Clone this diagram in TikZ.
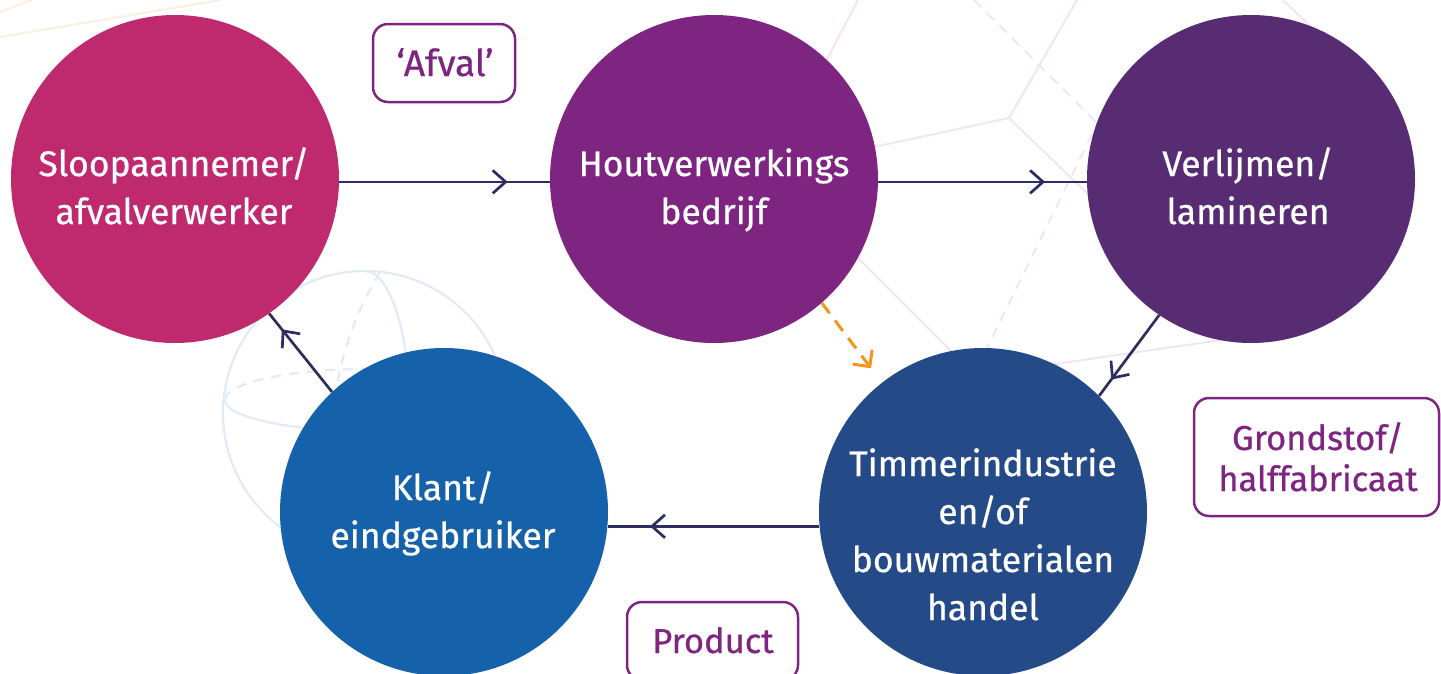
\documentclass[tikz,border=0pt]{standalone}
\usepackage{fontspec}
\setmainfont{Fira Sans}
\newfontfamily\medfont{Fira Sans}[FakeBold=0.6]
\usetikzlibrary{arrows.meta,decorations.markings}
\definecolor{csloop}{HTML}{BF2A6F}
\definecolor{chout}{HTML}{7E2481}
\definecolor{cverl}{HTML}{572C73}
\definecolor{ctimmer}{HTML}{244B88}
\definecolor{cklant}{HTML}{1662AA}
\definecolor{navy}{HTML}{2D2E5F}
\definecolor{corange}{HTML}{F7941D}
\definecolor{labpurple}{HTML}{7E2481}
\definecolor{globe}{HTML}{E1EBF6}
\definecolor{hexc}{HTML}{EFE6F1}
\definecolor{peach}{HTML}{FDEFE0}
\begin{document}
\begin{tikzpicture}[x=1pt,y=-1pt,
  circ/.style={circle, minimum size=328pt, inner sep=0pt, draw=none},
  ctext/.style={text=white, align=center, anchor=base, inner sep=0pt,
    font=\medfont\fontsize{35.5}{48}\selectfont},
  lbox/.style={draw=labpurple, line width=2.5pt, rounded corners=15pt, inner sep=0pt},
  ltext/.style={text=labpurple, align=center, anchor=base, inner sep=0pt,
    font=\medfont\fontsize{34.5}{41}\selectfont},
  flow/.style={draw=navy, line width=2.7pt, postaction={decorate},
    decoration={markings, mark=at position 0.8 with
      {\arrow{Straight Barb[length=13pt,width=23pt,line width=2.7pt]}}}},
  hint/.style={draw=corange, line width=3pt, dash pattern=on 13pt off 9pt,
    -{Straight Barb[length=12pt,width=24pt,line width=3pt]}},
  globeline/.style={draw=globe, line width=2.2pt},
  hexline/.style={draw=hexc, line width=2pt},
  peachline/.style={draw=peach, line width=2pt}
]
\useasboundingbox (0,0) rectangle (1441,673);
\clip (0,0) rectangle (1441,673);

% background decoration
\draw[peachline] (0,12) -- (32,0);
\draw[peachline] (0,37) -- (221,0);

\draw[globeline] (365,413) circle[radius=142];
\draw[globeline] (225,400) arc[start angle=180, end angle=0, x radius=143, y radius=31];
\draw[globeline, dash pattern=on 10pt off 8pt] (225,400) arc[start angle=180, end angle=360, x radius=143, y radius=31];
\draw[globeline] (365,271) arc[start angle=270, end angle=450, x radius=45, y radius=142];
\draw[globeline, dash pattern=on 10pt off 8pt] (380,272) .. controls (345,330) and (325,400) .. (335,480);

\draw[hexline] (858,0) -- (790,130);
\draw[hexline] (1077,0) -- (1009,118) -- (860,150);
\draw[hexline] (1009,118) -- (1120,225);
\draw[hexline, dash pattern=on 10pt off 8pt] (974,0) -- (1120,146);
\draw[hexline, dash pattern=on 10pt off 8pt] (1100,118) -- (986,350);
\draw[hexline] (840,240) -- (960,360);
\draw[hexline] (1000,372) -- (1270,333);
\draw[hexline] (1283,0) -- (1330,45);

% circles
\node[circ, fill=csloop]  (sloop)  at (175,179) {};
\node[circ, fill=chout]   (hout)   at (714,179) {};
\node[circ, fill=cverl]   (verl)   at (1251,179) {};
\node[circ, fill=ctimmer] (timmer) at (983,512) {};
\node[circ, fill=cklant]  (klant)  at (444,512) {};

% multi-line nodes: base anchor = baseline of the last line
\node[ctext] (sloopt)  at (174,224)  {Sloopaannemer/\\afvalverwerker};
\node[ctext] (houtt)   at (714,224)  {Houtverwerkings\\bedrijf};
\node[ctext] (verlt)   at (1248,224) {Verlijmen/\\lamineren};
\node[ctext] (timmert) at (983,620)  {Timmerindustrie\\en/of\\bouwmaterialen\\handel};
\node[ctext] (klantt)  at (443,548)  {Klant/\\eindgebruiker};

% label boxes
\node[lbox, minimum width=142pt, minimum height=78pt] (afvalbox) at (444,63) {};
\node[ltext, font=\medfont\fontsize{37}{41}\selectfont] (afval) at (445,76) {‘Afval’};
\node[lbox, minimum width=245pt, minimum height=118pt] (grondbox) at (1316.5,457) {};
\node[ltext] (grond) at (1318,491) {Grondstof/\\halffabricaat};
\node[lbox, minimum width=171pt, minimum height=78pt] (prodbox) at (712.5,641) {};
\node[ltext] (prod) at (713,653) {Product};

% connectors
\draw[flow] (sloop.-1) -- (hout.181);
\draw[flow] (hout.-1) -- (verl.181);
\draw[flow] (verl.-124) -- (timmer.45);
\draw[flow] (timmer.185) -- (klant.-5);
\draw[flow] (klant.133) -- (sloop.-55);
\draw[hint, shorten >=18pt] (hout.-49) -- (timmer.128);
\end{tikzpicture}
\end{document}
